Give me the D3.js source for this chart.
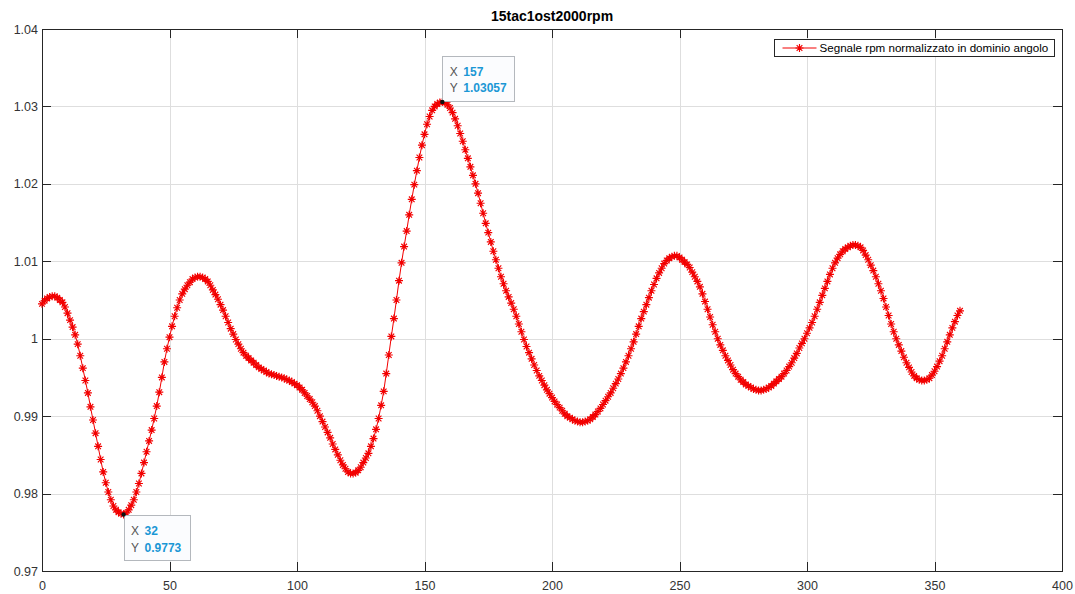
<!DOCTYPE html>
<html>
<head>
<meta charset="utf-8">
<script src="https://cdn.jsdelivr.net/npm/d3@7"></script>
<style>
  html, body { margin: 0; padding: 0; background: #fff; }
  svg { display: block; font-family: "Liberation Sans", Arial, Helvetica, sans-serif; }
</style>
</head>
<body>
<svg id="chart" width="1075" height="594"></svg>
<script>
// Normalised rpm signal sampled every degree of crank angle (0..360)
const angleStart = 0;
const angleEnd = 360;
const rpmNorm = [
  1.0045, 1.0049, 1.0052, 1.0054, 1.0055, 1.0055, 1.0053, 1.0050, 1.0047, 1.0041,
  1.0033, 1.0024, 1.0015, 1.0005, 0.9993, 0.9978, 0.9962, 0.9946, 0.9930, 0.9912,
  0.9895, 0.9878, 0.9861, 0.9844, 0.9828, 0.9814, 0.9802, 0.9792, 0.9784, 0.9779,
  0.9776, 0.9774, 0.9773, 0.9775, 0.9779, 0.9785, 0.9792, 0.9802, 0.9813, 0.9826,
  0.9840, 0.9854, 0.9868, 0.9882, 0.9897, 0.9913, 0.9931, 0.9950, 0.9970, 0.9987,
  1.0002, 1.0016, 1.0029, 1.0040, 1.0050, 1.0058, 1.0064, 1.0069, 1.0073, 1.0077,
  1.0079, 1.0080, 1.0080, 1.0079, 1.0077, 1.0074, 1.0069, 1.0063, 1.0057, 1.0051,
  1.0044, 1.0037, 1.0029, 1.0021, 1.0013, 1.0006, 0.9999, 0.9993, 0.9987, 0.9982,
  0.9978, 0.9975, 0.9972, 0.9969, 0.9966, 0.9963, 0.9961, 0.9959, 0.9957, 0.9955,
  0.9954, 0.9953, 0.9952, 0.9951, 0.9950, 0.9949, 0.9947, 0.9946, 0.9944, 0.9942,
  0.9940, 0.9937, 0.9934, 0.9930, 0.9926, 0.9922, 0.9918, 0.9913, 0.9907, 0.9900,
  0.9893, 0.9886, 0.9879, 0.9872, 0.9864, 0.9857, 0.9850, 0.9843, 0.9837, 0.9832,
  0.9828, 0.9826, 0.9826, 0.9827, 0.9830, 0.9834, 0.9840, 0.9846, 0.9852, 0.9861,
  0.9871, 0.9883, 0.9897, 0.9914, 0.9932, 0.9955, 0.9979, 1.0003, 1.0026, 1.0050,
  1.0075, 1.0098, 1.0119, 1.0139, 1.0160, 1.0180, 1.0199, 1.0217, 1.0234, 1.0250,
  1.0264, 1.0277, 1.0287, 1.0295, 1.0300, 1.0303, 1.0305, 1.03057, 1.0305, 1.0302,
  1.0298, 1.0292, 1.0284, 1.0275, 1.0265, 1.0255, 1.0244, 1.0233, 1.0222, 1.0211,
  1.0200, 1.0188, 1.0175, 1.0162, 1.0149, 1.0137, 1.0125, 1.0113, 1.0102, 1.0091,
  1.0080, 1.0071, 1.0062, 1.0054, 1.0046, 1.0038, 1.0029, 1.0019, 1.0009, 0.9999,
  0.9990, 0.9982, 0.9974, 0.9966, 0.9959, 0.9952, 0.9946, 0.9940, 0.9934, 0.9929,
  0.9924, 0.9919, 0.9915, 0.9911, 0.9907, 0.9903, 0.9900, 0.9898, 0.9896, 0.9894,
  0.9893, 0.9892, 0.9892, 0.9893, 0.9894, 0.9896, 0.9899, 0.9902, 0.9906, 0.9910,
  0.9915, 0.9920, 0.9925, 0.9930, 0.9936, 0.9942, 0.9948, 0.9955, 0.9962, 0.9970,
  0.9978, 0.9987, 0.9996, 1.0006, 1.0016, 1.0026, 1.0035, 1.0044, 1.0053, 1.0062,
  1.0070, 1.0078, 1.0085, 1.0091, 1.0097, 1.0101, 1.0104, 1.0106, 1.0107, 1.0107,
  1.0105, 1.0102, 1.0099, 1.0096, 1.0092, 1.0086, 1.0080, 1.0074, 1.0067, 1.0058,
  1.0048, 1.0038, 1.0028, 1.0018, 1.0009, 1.0000, 0.9992, 0.9985, 0.9978, 0.9972,
  0.9966, 0.9960, 0.9955, 0.9951, 0.9947, 0.9944, 0.9941, 0.9939, 0.9937, 0.9935,
  0.9934, 0.9933, 0.9933, 0.9934, 0.9935, 0.9937, 0.9939, 0.9942, 0.9945, 0.9948,
  0.9951, 0.9955, 0.9959, 0.9964, 0.9969, 0.9975, 0.9981, 0.9988, 0.9994, 1.0000,
  1.0007, 1.0014, 1.0021, 1.0029, 1.0038, 1.0047, 1.0056, 1.0065, 1.0074, 1.0083,
  1.0091, 1.0098, 1.0104, 1.0109, 1.0113, 1.0116, 1.0118, 1.0120, 1.0121, 1.0121,
  1.0120, 1.0118, 1.0114, 1.0108, 1.0102, 1.0095, 1.0088, 1.0080, 1.0071, 1.0062,
  1.0052, 1.0041, 1.0030, 1.0019, 1.0009, 1.0000, 0.9992, 0.9984, 0.9976, 0.9969,
  0.9963, 0.9957, 0.9952, 0.9949, 0.9947, 0.9946, 0.9946, 0.9947, 0.9949, 0.9953,
  0.9958, 0.9964, 0.9971, 0.9978, 0.9987, 0.9996, 1.0005, 1.0014, 1.0022, 1.0030,
  1.0036
];
const angles = d3.range(angleStart, angleEnd + 1);

// Axis ticks
const xTicks = [0, 50, 100, 150, 200, 250, 300, 350, 400];
const yTicks = [0.97, 0.98, 0.99, 1.00, 1.01, 1.02, 1.03, 1.04];
const yTickLabels = ["0.97", "0.98", "0.99", "1", "1.01", "1.02", "1.03", "1.04"];

// Data tips (angle of the marked samples)
const tipAngles = [32, 157];

const titleText = "15tac1ost2000rpm";
const legendText = "Segnale rpm normalizzato in dominio angolo";

// ---------------------------------------------------------------
const svg = d3.select("#chart");
const W = 1075, H = 594;
const box = { left: 42, top: 29, right: 1062, bottom: 571 };
const axisColor = "#262626";
const lineRed = "#f20000";
const tickLen = 9;

const x = d3.scaleLinear().domain([0, 400]).range([box.left, box.right]);
const y = d3.scaleLinear().domain([0.97, 1.04]).range([box.bottom, box.top]);

svg.append("rect").attr("width", W).attr("height", H).attr("fill", "#fff");

// Grid
const grid = svg.append("g").attr("stroke", "#dedede").attr("stroke-width", 1).attr("shape-rendering", "crispEdges");
grid.selectAll(".gx").data(xTicks.slice(1, -1)).join("line")
  .attr("x1", d => Math.round(x(d)) + 0.5).attr("x2", d => Math.round(x(d)) + 0.5)
  .attr("y1", box.top).attr("y2", box.bottom);
grid.selectAll(".gy").data(yTicks.slice(1, -1)).join("line")
  .attr("y1", d => Math.round(y(d)) + 0.5).attr("y2", d => Math.round(y(d)) + 0.5)
  .attr("x1", box.left).attr("x2", box.right);

// Axes (ticks pointing inward on all four sides)
function styleAxis(g) {
  g.select(".domain").remove();
  g.selectAll(".tick line").attr("stroke", axisColor).attr("shape-rendering", "crispEdges");
  g.selectAll(".tick text").attr("fill", "#333").attr("font-size", "12.5px")
    .attr("font-family", "'Liberation Sans', Arial, sans-serif");
}
svg.append("g").attr("transform", `translate(0,${box.bottom})`)
  .call(d3.axisBottom(x).tickValues(xTicks).tickSizeInner(-tickLen).tickSizeOuter(0).tickPadding(10).tickFormat(d3.format("d")))
  .call(styleAxis);
svg.append("g").attr("transform", `translate(0,${box.top})`)
  .call(d3.axisTop(x).tickValues(xTicks).tickSizeInner(-tickLen).tickSizeOuter(0).tickFormat(""))
  .call(styleAxis);
svg.append("g").attr("transform", `translate(${box.left},0)`)
  .call(d3.axisLeft(y).tickValues(yTicks).tickSizeInner(-tickLen).tickSizeOuter(0).tickPadding(4)
    .tickFormat((d, i) => yTickLabels[i]))
  .call(styleAxis);
svg.append("g").attr("transform", `translate(${box.right},0)`)
  .call(d3.axisRight(y).tickValues(yTicks).tickSizeInner(-tickLen).tickSizeOuter(0).tickFormat(""))
  .call(styleAxis);

// Axes box
svg.append("rect")
  .attr("x", box.left + 0.5).attr("y", box.top + 0.5)
  .attr("width", box.right - box.left).attr("height", box.bottom - box.top)
  .attr("fill", "none").attr("stroke", axisColor).attr("stroke-width", 1)
  .attr("shape-rendering", "crispEdges");

// Series line
const series = angles.map((a, i) => ({ a, v: rpmNorm[i] }));
svg.append("path").datum(series)
  .attr("fill", "none").attr("stroke", lineRed).attr("stroke-width", 1)
  .attr("d", d3.line().x(d => x(d.a)).y(d => y(d.v)));

// Asterisk markers (plus + cross)
function asterisk(cx, cy, r) {
  const k = r * 0.7071;
  return `M${cx - r},${cy}L${cx + r},${cy}M${cx},${cy - r}L${cx},${cy + r}` +
         `M${cx - k},${cy - k}L${cx + k},${cy + k}M${cx - k},${cy + k}L${cx + k},${cy - k}`;
}
svg.append("path")
  .attr("fill", "none").attr("stroke", lineRed).attr("stroke-width", 1.15)
  .attr("d", series.map(d => asterisk(x(d.a), y(d.v), 4)).join(""));

// Title
svg.append("text")
  .attr("x", (box.left + box.right) / 2).attr("y", 21)
  .attr("text-anchor", "middle").attr("font-weight", "bold").attr("font-size", "14px")
  .attr("fill", "#000").text(titleText);

// Legend
const leg = svg.append("g");
const legX = 774.5, legY = 39.5, legH = 17;
const legLabel = leg.append("text")
  .attr("x", legX + 45).attr("y", legY + 12.3)
  .attr("font-size", "11.6px").attr("fill", "#000").text(legendText);
const legW = 45 + legLabel.node().getComputedTextLength() + 6;
leg.insert("rect", "text")
  .attr("x", legX).attr("y", legY).attr("width", legW).attr("height", legH)
  .attr("fill", "#fff").attr("stroke", axisColor).attr("stroke-width", 1)
  .attr("shape-rendering", "crispEdges");
leg.append("line")
  .attr("x1", legX + 8).attr("x2", legX + 42).attr("y1", legY + legH / 2).attr("y2", legY + legH / 2)
  .attr("stroke", lineRed).attr("stroke-width", 1);
leg.append("path")
  .attr("fill", "none").attr("stroke", lineRed).attr("stroke-width", 1.15)
  .attr("d", asterisk(legX + 25, legY + legH / 2, 4));

// Data tips
const tipValueColor = "#1a97d5";
tipAngles.forEach(a => {
  const v = rpmNorm[a - angleStart];
  const px = x(a), py = y(v);
  const above = v > 1.0;
  const g = svg.append("g");
  const bg = g.append("rect");
  const lx = px + 7.5, vx = px + 21;
  const t1 = g.append("text").attr("x", lx).attr("font-size", "12px").attr("fill", "#555").text("X");
  const t2 = g.append("text").attr("x", lx).attr("font-size", "12px").attr("fill", "#555").text("Y");
  const v1 = g.append("text").attr("x", vx).attr("font-size", "12px").attr("font-weight", "bold")
    .attr("fill", tipValueColor).text(String(a));
  const v2 = g.append("text").attr("x", vx).attr("font-size", "12px").attr("font-weight", "bold")
    .attr("fill", tipValueColor).text(String(v));
  const tw = Math.max(v1.node().getComputedTextLength(), v2.node().getComputedTextLength());
  const bw = 21 + tw + 8, bh = 45;
  const top = above ? py - 1.5 - bh : py + 1;
  bg.attr("x", Math.round(px) + 0.5).attr("y", Math.round(top) + 0.5)
    .attr("width", bw).attr("height", bh)
    .attr("fill", "#fbfcfe").attr("stroke", "#b4b8bd").attr("stroke-width", 1)
    .attr("shape-rendering", "crispEdges");
  t1.attr("y", top + 20); v1.attr("y", top + 20);
  t2.attr("y", top + 36.5); v2.attr("y", top + 36.5);
  g.append("circle").attr("cx", px).attr("cy", py).attr("r", 2.2).attr("fill", "#111");
});
</script>
</body>
</html>
